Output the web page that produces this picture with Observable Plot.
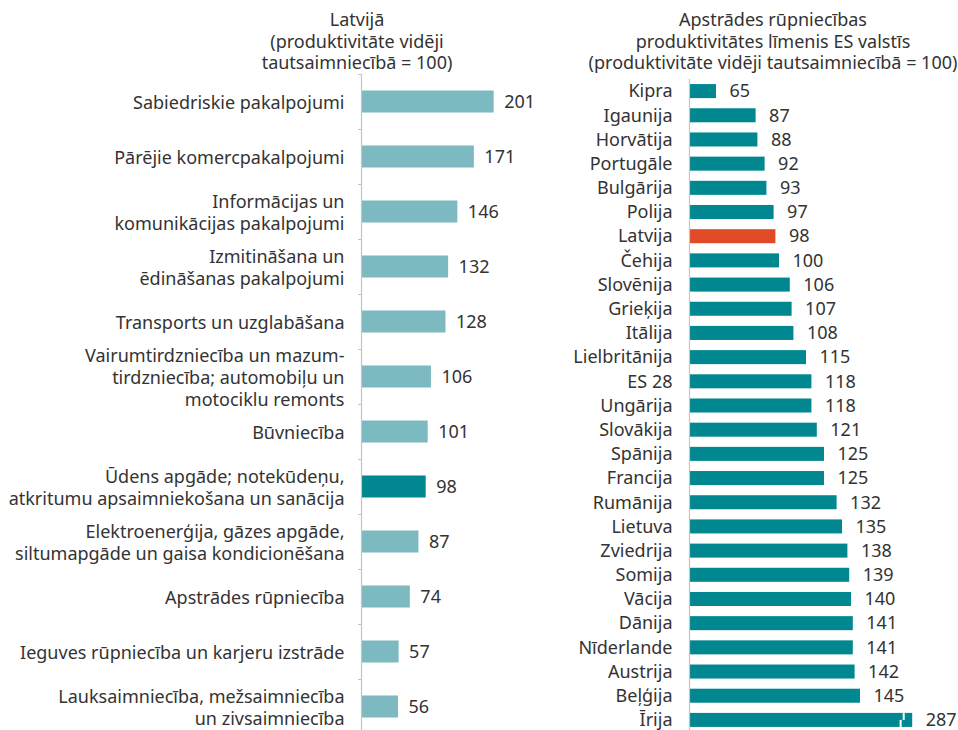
<!DOCTYPE html>
<html>
<head>
<meta charset="utf-8">
<script src="https://cdn.jsdelivr.net/npm/d3@7"></script>
<script src="https://cdn.jsdelivr.net/npm/@observablehq/plot@0.6"></script>
<style>
  html, body { margin: 0; padding: 0; background: #fff; overflow: hidden; }
  body { width: 958px; height: 730px; position: relative; font-family: "Noto Sans", sans-serif; color: #333; }
  .title { position: absolute; text-align: center; font-size: 18px; line-height: 21.5px; transform: translateX(-50%); white-space: nowrap; }
  .panel { position: absolute; top: 0; }
  .panel svg { display: block; }
</style>
</head>
<body>
<div class="title" id="t1" style="left:357px; top:9px;">Latvijā<br>(produktivitāte vidēji<br>tautsaimniecībā = 100)</div>
<div class="title" id="t2" style="left:773px; top:9px;">Apstrādes rūpniecības<br>produktivitātes līmenis ES valstīs<br>(produktivitāte vidēji tautsaimniecībā = 100)</div>
<div class="panel" id="left" style="left:0px;"></div>
<div class="panel" id="right" style="left:560px;"></div>
<script>
// Left panel: sectors in Latvia
const sectors = [
  "Sabiedriskie pakalpojumi",
  "Pārējie komercpakalpojumi",
  "Informācijas un\nkomunikācijas pakalpojumi",
  "Izmitināšana un\nēdināšanas pakalpojumi",
  "Transports un uzglabāšana",
  "Vairumtirdzniecība un mazum-\ntirdzniecība; automobiļu un\nmotociklu remonts",
  "Būvniecība",
  "Ūdens apgāde; notekūdeņu,\natkritumu apsaimniekošana un sanācija",
  "Elektroenerģija, gāzes apgāde,\nsiltumapgāde un gaisa kondicionēšana",
  "Apstrādes rūpniecība",
  "Ieguves rūpniecība un karjeru izstrāde",
  "Lauksaimniecība, mežsaimniecība\nun zivsaimniecība"
];
const sectorValues = [201, 171, 146, 132, 128, 106, 101, 98, 87, 74, 57, 56];
const highlightSector = "Ūdens apgāde; notekūdeņu,\natkritumu apsaimniekošana un sanācija";

// Right panel: manufacturing productivity in EU countries
const countries = ["Kipra", "Igaunija", "Horvātija", "Portugāle", "Bulgārija", "Polija", "Latvija", "Čehija",
  "Slovēnija", "Grieķija", "Itālija", "Lielbritānija", "ES 28", "Ungārija", "Slovākija", "Spānija",
  "Francija", "Rumānija", "Lietuva", "Zviedrija", "Somija", "Vācija", "Dānija", "Nīderlande",
  "Austrija", "Beļģija", "Īrija"];
const countryValues = [65, 87, 88, 92, 93, 97, 98, 100, 106, 107, 108, 115, 118, 118, 121, 125,
  125, 132, 135, 138, 139, 140, 141, 141, 142, 145, 287];
const highlightCountry = "Latvija";
const axisCap = 174; // bars beyond this are drawn truncated with a break

const LIGHT = "#7db9c0", DARK = "#00878f", RED = "#e04a27", TEXT = "#333", AXIS = "#c4c4c4";
const FONT = "'Noto Sans', sans-serif";
const FS = 18;

const leftData = sectors.map((s, i) => ({name: s, value: sectorValues[i]}));
const rightData = countries.map((c, i) => ({name: c, value: countryValues[i], shown: Math.min(countryValues[i], axisCap)}));

const leftPlot = Plot.plot({
  width: 559, height: 734,
  marginLeft: 361, marginRight: 0, marginTop: 74, marginBottom: 0,
  style: {fontFamily: FONT, fontSize: FS + "px", color: TEXT, background: "transparent"},
  x: {domain: [0, 300], axis: null},
  y: {domain: sectors, paddingInner: 0.6, paddingOuter: 0.3, round: false, label: null},
  marks: [
    Plot.barX(leftData, {y: "name", x: "value", fill: d => d.name === highlightSector ? DARK : LIGHT}),
    Plot.text(leftData, {y: "name", x: "value", text: d => String(d.value), textAnchor: "start", dx: 10, fill: TEXT, fontSize: FS}),
    Plot.axisY({tickSize: 0, tickPadding: 17, fontSize: FS, lineHeight: 1.2, fill: TEXT, label: null}),
    Plot.axisY({tickSize: 3, tickFormat: () => "", dy: -27.5, stroke: AXIS, label: null}),
    Plot.ruleX([0], {stroke: AXIS, strokeWidth: 1.2})
  ]
});
document.getElementById("left").appendChild(leftPlot);

const rightPlot = Plot.plot({
  width: 398, height: 732,
  marginLeft: 129, marginRight: 44, marginTop: 79, marginBottom: 0,
  style: {fontFamily: FONT, fontSize: FS + "px", color: TEXT, background: "transparent", overflow: "visible"},
  x: {domain: [50, 175], axis: null},
  y: {domain: countries, paddingInner: 0.42, paddingOuter: 0.21, round: false, label: null},
  marks: [
    Plot.barX(rightData, {y: "name", x1: 50, x2: "shown", fill: d => d.name === highlightCountry ? RED : DARK}),
    Plot.tickX(rightData.filter(d => d.value > axisCap), {y: "name", x: d => axisCap - 5, insetBottom: 7, stroke: "white", strokeWidth: 2}),
    Plot.tickX(rightData.filter(d => d.value > axisCap), {y: "name", x: d => axisCap - 6.7, insetTop: 7, stroke: "white", strokeWidth: 2}),
    Plot.text(rightData, {y: "name", x: "shown", text: d => String(d.value), textAnchor: "start", fill: TEXT, fontSize: FS, dx: 13}),
    Plot.axisY({tickSize: 0, tickPadding: 17, fontSize: FS, fill: TEXT, label: null}),
    Plot.ruleX([50], {stroke: AXIS, strokeWidth: 1.2})
  ]
});
document.getElementById("right").appendChild(rightPlot);
</script>
</body>
</html>
